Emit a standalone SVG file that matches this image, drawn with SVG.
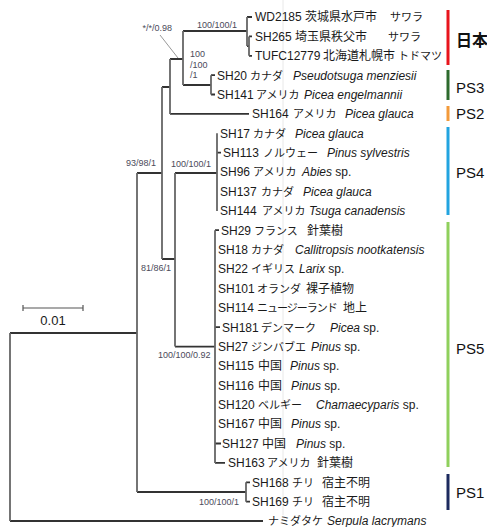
<svg xmlns="http://www.w3.org/2000/svg" width="487" height="527" viewBox="0 0 487 527">
<style>
text{font-family:"Liberation Sans","Noto Sans CJK JP",sans-serif;font-size:12px;fill:#1a1a1a}
.jp{font-size:11px}
.kj{font-size:12px}
.it{font-style:italic}
.sup{font-size:9px;fill:#4a4a5a}
.clade{font-size:15px;fill:#111}
.h{stroke:#333;stroke-width:1.8;fill:none}
.v{stroke:#666;stroke-width:1.8;fill:none}
</style>
<rect width="487" height="527" fill="#fff"/>
<line x1="283" y1="0" x2="283" y2="515" stroke="#e8e8e8" stroke-width="1"/>
<g id="connectors">
<path class="h" d="M10 333H137M10 521H263M137 492H246M137 173H162M162 87H170M162 259H175M170 59H183M170 113.9H249M183 31H247M183 85H211M247 17H252M247 46H249M249 36.4H252M249 55.8H252M211 75.2H215M211 94.5H215M175 173H217M175 346.6H215M217 152.7H221M215 230.2H219M215 327.2H220M215 443.5H221M215 462.9H225M246 482.3H250M246 501.7H250"/>
<path class="v" d="M10 333V521M137 173V492M162 87V259M170 59V114M183 31V85M247 17V46M249 36.4V55.8M211 75.2V94.5M175 173V346.6M217 133.3V210.9M215 230.2V462.9M246 482.3V501.7"/>
<line x1="160" y1="35" x2="178" y2="58" stroke="#999" stroke-width="1"/>
</g>
<g id="support-labels">
<text class="sup" x="172" y="30.5" text-anchor="end">*/*/0.98</text>
<text class="sup" x="197" y="28">100/100/1</text>
<text class="sup" x="190" y="57">100</text>
<text class="sup" x="190" y="67.5">/100</text>
<text class="sup" x="190" y="78">/1</text>
<text class="sup" x="126" y="166">93/98/1</text>
<text class="sup" x="171" y="167">100/100/1</text>
<text class="sup" x="141" y="270.5">81/86/1</text>
<text class="sup" x="158" y="358">100/100/0.92</text>
<text class="sup" x="199" y="505">100/100/1</text>
</g>
<g id="leaf-WD2185"><text y="21.3"><tspan x="255">WD2185</tspan><tspan class="kj" x="305">茨城県水戸市</tspan><tspan class="jp" x="390">サワラ</tspan></text></g>
<g id="leaf-SH265"><text y="40.7"><tspan x="255">SH265</tspan><tspan class="kj" x="295">埼玉県秩父市</tspan><tspan class="jp" x="388">サワラ</tspan></text></g>
<g id="leaf-TUFC12779"><text y="60.1"><tspan x="255">TUFC12779</tspan><tspan class="kj" x="323">北海道札幌市</tspan><tspan class="jp" x="398">トドマツ</tspan></text></g>
<g id="leaf-SH20"><text y="79.5"><tspan x="217">SH20</tspan><tspan class="jp" x="250">カナダ</tspan><tspan class="it" x="293">Pseudotsuga menziesii</tspan></text></g>
<g id="leaf-SH141"><text y="98.8"><tspan x="217">SH141</tspan><tspan class="jp" x="256">アメリカ</tspan><tspan class="it" x="304">Picea engelmannii</tspan></text></g>
<g id="leaf-SH164"><text y="118.2"><tspan x="252">SH164</tspan><tspan class="jp" x="293">アメリカ</tspan><tspan class="it" x="345">Picea glauca</tspan></text></g>
<g id="leaf-SH17"><text y="137.6"><tspan x="220">SH17</tspan><tspan class="jp" x="253">カナダ</tspan><tspan class="it" x="295">Picea glauca</tspan></text></g>
<g id="leaf-SH113"><text y="157"><tspan x="223">SH113</tspan><tspan class="jp" x="263">ノルウェー</tspan><tspan class="it" x="327">Pinus sylvestris</tspan></text></g>
<g id="leaf-SH96"><text y="176.4"><tspan x="220">SH96</tspan><tspan class="jp" x="253">アメリカ</tspan><tspan class="it" x="302">Abies</tspan> sp.</text></g>
<g id="leaf-SH137"><text y="195.8"><tspan x="220">SH137</tspan><tspan class="jp" x="261">カナダ</tspan><tspan class="it" x="303">Picea glauca</tspan></text></g>
<g id="leaf-SH144"><text y="215.2"><tspan x="220">SH144</tspan><tspan class="jp" x="262">アメリカ</tspan><tspan class="it" x="309">Tsuga canadensis</tspan></text></g>
<g id="leaf-SH29"><text y="234.5"><tspan x="221">SH29</tspan><tspan class="jp" x="254">フランス</tspan><tspan class="kj" x="307">針葉樹</tspan></text></g>
<g id="leaf-SH18"><text y="253.9"><tspan x="218">SH18</tspan><tspan class="jp" x="251">カナダ</tspan><tspan class="it" x="295">Callitropsis nootkatensis</tspan></text></g>
<g id="leaf-SH22"><text y="273.3"><tspan x="218">SH22</tspan><tspan class="jp" x="251">イギリス</tspan><tspan class="it" x="299">Larix</tspan> sp.</text></g>
<g id="leaf-SH101"><text y="292.7"><tspan x="218">SH101</tspan><tspan class="jp" x="257">オランダ</tspan><tspan class="kj" x="306">裸子植物</tspan></text></g>
<g id="leaf-SH114"><text y="312.1"><tspan x="218">SH114</tspan><tspan class="jp" x="257" style="letter-spacing:-1px">ニュージーランド</tspan><tspan class="kj" x="343">地上</tspan></text></g>
<g id="leaf-SH181"><text y="331.5"><tspan x="222">SH181</tspan><tspan class="jp" x="261">デンマーク</tspan><tspan class="it" x="330">Picea</tspan> sp.</text></g>
<g id="leaf-SH27"><text y="350.9"><tspan x="218">SH27</tspan><tspan class="jp" x="251">ジンバブエ</tspan><tspan class="it" x="311">Pinus</tspan> sp.</text></g>
<g id="leaf-SH115"><text y="370.3"><tspan x="218">SH115</tspan><tspan class="kj" x="258">中国</tspan><tspan class="it" x="290">Pinus</tspan> sp.</text></g>
<g id="leaf-SH116"><text y="389.6"><tspan x="218">SH116</tspan><tspan class="kj" x="258">中国</tspan><tspan class="it" x="291">Pinus</tspan> sp.</text></g>
<g id="leaf-SH120"><text y="409"><tspan x="218">SH120</tspan><tspan class="jp" x="258">ベルギー</tspan><tspan class="it" x="316">Chamaecyparis</tspan> sp.</text></g>
<g id="leaf-SH167"><text y="428.4"><tspan x="218">SH167</tspan><tspan class="kj" x="258">中国</tspan><tspan class="it" x="291">Pinus</tspan> sp.</text></g>
<g id="leaf-SH127"><text y="447.8"><tspan x="222">SH127</tspan><tspan class="kj" x="262">中国</tspan><tspan class="it" x="296">Pinus</tspan> sp.</text></g>
<g id="leaf-SH163"><text y="467.2"><tspan x="228">SH163</tspan><tspan class="jp" x="267">アメリカ</tspan><tspan class="kj" x="317">針葉樹</tspan></text></g>
<g id="leaf-SH168"><text y="486.6"><tspan x="252">SH168</tspan><tspan class="jp" x="292">チリ</tspan><tspan class="kj" x="322">宿主不明</tspan></text></g>
<g id="leaf-SH169"><text y="506"><tspan x="252">SH169</tspan><tspan class="jp" x="292">チリ</tspan><tspan class="kj" x="322">宿主不明</tspan></text></g>
<g id="leaf-Serpula"><text y="525.3"><tspan class="jp" x="268">ナミダタケ</tspan><tspan class="it" x="327">Serpula lacrymans</tspan></text></g>
<g id="clade-japan"><rect x="446.5" y="10" width="3" height="55" fill="#e8141c"/><text class="clade" x="456" y="46" style="font-size:16px;font-weight:bold">日本</text></g>
<g id="clade-PS3"><rect x="446.5" y="70" width="3" height="30" fill="#2d6a2d"/><text class="clade" x="456" y="92.5">PS3</text></g>
<g id="clade-PS2"><rect x="446.5" y="106" width="3" height="15" fill="#f39a3a"/><text class="clade" x="456" y="119">PS2</text></g>
<g id="clade-PS4"><rect x="446.5" y="127" width="3" height="88" fill="#22a4e0"/><text class="clade" x="456" y="178">PS4</text></g>
<g id="clade-PS5"><rect x="446.5" y="222" width="3" height="245" fill="#8fd05c"/><text class="clade" x="456" y="354">PS5</text></g>
<g id="clade-PS1"><rect x="446.5" y="474" width="3" height="36" fill="#1c2a5e"/><text class="clade" x="456" y="498">PS1</text></g>
<g id="scale-bar">
<path d="M23 308H83M23 305V311M83 305V311" stroke="#555" stroke-width="1.2" fill="none"/>
<text x="53" y="324.5" text-anchor="middle" style="font-size:13px">0.01</text>
</g>
</svg>
